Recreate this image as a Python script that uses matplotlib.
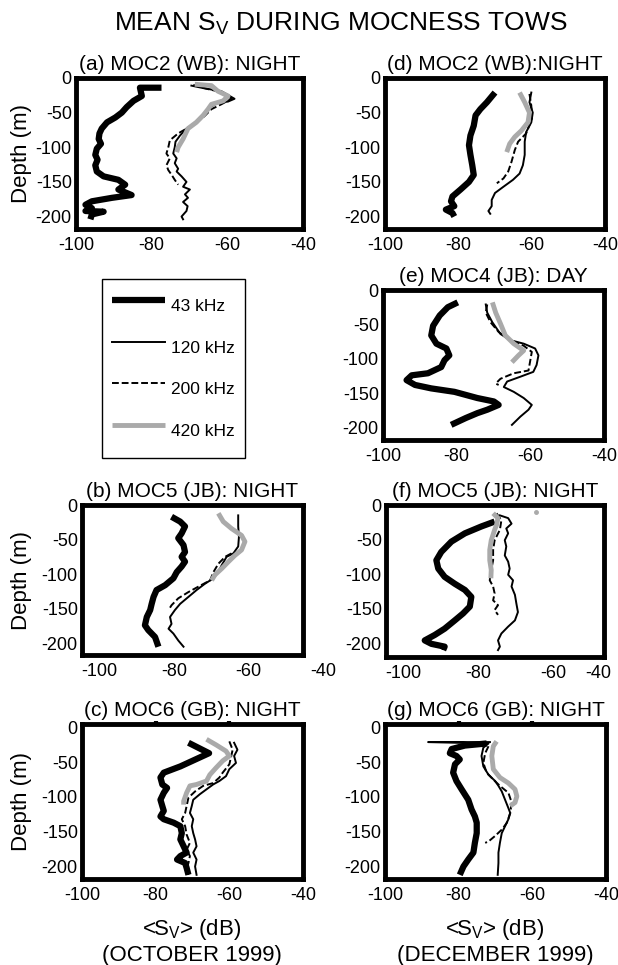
import matplotlib
matplotlib.use('Agg')
import matplotlib.pyplot as plt
from matplotlib import transforms

plt.rcParams['font.family'] = ['Liberation Sans', 'DejaVu Sans']
plt.rcParams['mathtext.fontset'] = 'custom'
plt.rcParams['mathtext.rm'] = 'Liberation Sans'
plt.rcParams['mathtext.default'] = 'regular'
plt.rcParams['axes.unicode_minus'] = False

W, H = 618, 965

FREQS = ['43 kHz', '120 kHz', '200 kHz', '420 kHz']

# ---- (a) MOC2 (WB) night, October
a43_z = [-14, -14, -26, -33, -42, -50, -57, -64, -73, -80, -88, -95, -102, -111, -118, -126, -135, -142, -147, -154, -161, -169, -173, -178, -183, -188, -192, -193, -197, -204]
a43_sv = [-77.4, -83.1, -82.6, -84.8, -86.6, -87.9, -89.6, -91.8, -93.2, -93.8, -94.0, -93.4, -94.5, -94.9, -94.3, -94.9, -94.5, -92.7, -88.8, -87.0, -88.8, -85.3, -90.5, -95.8, -97.5, -95.8, -97.5, -92.7, -95.8, -96.2]
a120_z = [-11, -15, -19, -30, -34, -36, -42, -52, -64, -73, -83, -92, -100, -109, -116, -123, -131, -135, -142, -150, -157, -161, -168, -173, -179, -185, -192, -200, -204]
a120_sv = [-69.5, -66.0, -61.6, -58.1, -59.8, -62.5, -64.6, -66.0, -68.2, -70.8, -72.5, -73.7, -73.9, -74.3, -73.4, -73.9, -73.0, -73.4, -72.1, -70.8, -71.7, -69.9, -71.2, -70.4, -71.7, -70.5, -70.8, -72.1, -71.7]
a200_z = [-10, -16, -21, -30, -38, -45, -57, -69, -80, -90, -100, -109, -116, -126, -133, -140, -147, -154]
a200_sv = [-69.0, -65.1, -61.1, -58.9, -61.6, -64.2, -66.4, -69.5, -73.0, -75.2, -75.6, -76.1, -75.2, -76.1, -75.6, -74.7, -73.9, -73.0]
a420_z = [-9, -11, -19, -26, -33, -38, -45, -54, -64, -73, -88, -100, -107]
a420_sv = [-68.6, -64.2, -62.5, -59.8, -61.1, -64.2, -65.1, -66.4, -68.2, -70.4, -71.7, -73.0, -73.4]

# ---- (b) MOC5 (JB) night, October
b43_z = [-17, -24, -31, -41, -48, -58, -68, -75, -82, -89, -97, -106, -116, -123, -133, -143, -152, -162, -174, -181, -191, -205]
b43_sv = [-80.6, -78.3, -77.0, -77.9, -78.8, -77.4, -77.0, -77.9, -77.0, -77.9, -79.2, -80.1, -82.3, -84.6, -85.4, -85.9, -86.3, -87.2, -87.7, -86.8, -85.0, -84.1]
b120_z = [-15, -31, -46, -60, -70, -75, -87, -97, -106, -114, -123, -133, -143, -152, -162, -172, -179, -186, -196, -205]
b120_sv = [-62.8, -62.8, -62.6, -62.8, -64.1, -65.9, -67.2, -68.1, -69.4, -71.7, -73.9, -76.1, -78.3, -79.7, -81.0, -80.6, -81.4, -80.1, -78.8, -77.4]
b200_z = [-70, -75, -85, -97, -109, -118, -126, -135, -145, -152]
b200_sv = [-64.6, -66.3, -68.1, -69.4, -70.3, -73.4, -76.1, -78.8, -80.6, -81.4]
b420_z = [-12, -24, -34, -44, -53, -65, -73, -82, -92, -101, -109]
b420_sv = [-68.1, -66.8, -64.6, -61.9, -61.0, -61.9, -63.7, -65.4, -67.2, -69.0, -69.9]

# ---- (c) MOC6 (GB) night, October
c43_z = [-22, -37, -56, -65, -72, -82, -87, -94, -104, -113, -120, -128, -132, -137, -142, -152, -161, -171, -180, -185, -190, -195, -202, -212]
c43_sv = [-71.1, -65.5, -73.3, -77.8, -78.7, -78.2, -76.9, -77.8, -78.7, -78.2, -77.8, -78.7, -77.8, -75.1, -73.3, -72.9, -73.3, -72.4, -71.6, -73.3, -74.2, -72.0, -71.6, -71.1]
c120_z = [-22, -32, -41, -51, -60, -70, -77, -82, -89, -96, -104, -113, -123, -132, -142, -152, -161, -171, -180, -190, -200, -212]
c120_sv = [-58.7, -57.8, -58.7, -58.2, -60.0, -60.9, -62.7, -64.4, -66.2, -68.0, -69.8, -70.2, -70.7, -69.8, -70.2, -69.8, -69.3, -68.9, -69.8, -68.9, -69.3, -68.9]
c200_z = [-20, -32, -44, -53, -65, -72, -80, -84, -92, -101, -113, -123, -132, -142, -154, -166, -176, -185, -195, -204, -212]
c200_sv = [-60.0, -59.1, -59.6, -60.0, -61.8, -62.7, -64.4, -67.1, -69.3, -71.1, -71.6, -72.0, -72.9, -72.0, -71.6, -70.7, -71.6, -70.7, -71.1, -71.6, -71.1]
c420_z = [-17, -25, -34, -41, -48, -58, -68, -77, -82, -84, -94, -106, -111]
c420_sv = [-66.2, -63.6, -60.9, -60.0, -61.8, -63.6, -65.3, -66.2, -68.9, -70.7, -71.6, -72.4, -72.4]

# ---- (d) MOC2 (WB) night, December
d43_z = [-21, -35, -45, -54, -69, -83, -97, -111, -126, -140, -150, -161, -171, -178, -185, -190, -195, -200]
d43_sv = [-70.0, -72.2, -74.0, -75.3, -75.8, -76.7, -77.1, -76.7, -76.2, -75.8, -77.1, -79.4, -81.6, -82.0, -81.1, -83.4, -81.6, -81.1]
d120_z = [-21, -35, -50, -64, -78, -92, -111, -126, -138, -147, -157, -166, -176, -185, -192, -196]
d120_sv = [-60.1, -60.6, -59.7, -60.1, -61.5, -61.9, -61.9, -62.4, -63.3, -65.1, -67.7, -70.0, -70.9, -70.9, -71.8, -71.3]
d200_z = [-23, -40, -58, -80, -92, -104, -121, -135, -145, -152]
d200_sv = [-60.6, -60.1, -59.9, -61.5, -63.7, -64.6, -65.5, -66.4, -67.7, -69.5]
d420_z = [-21, -35, -50, -64, -76, -85, -95, -107]
d420_sv = [-63.3, -61.9, -60.6, -61.0, -62.8, -64.6, -66.0, -66.8]

# ---- (e) MOC4 (JB) day, December
e43_z = [-18, -25, -37, -52, -66, -78, -85, -95, -102, -112, -121, -124, -131, -138, -143, -148, -157, -162, -167, -174, -179, -186, -196]
e43_sv = [-79.7, -82.4, -84.6, -86.4, -86.9, -85.5, -82.8, -82.0, -83.3, -84.2, -87.8, -92.2, -93.6, -91.3, -86.9, -80.6, -74.4, -69.9, -68.6, -71.7, -74.4, -77.5, -81.5]
e120_z = [-21, -33, -47, -64, -73, -78, -85, -95, -109, -119, -126, -133, -141, -148, -157, -167, -174, -184, -196]
e120_sv = [-72.1, -71.7, -70.3, -68.1, -65.4, -61.8, -58.7, -57.8, -58.3, -59.2, -62.7, -66.3, -67.2, -64.5, -61.8, -59.6, -60.5, -62.7, -65.0]
e200_z = [-21, -33, -47, -61, -73, -81, -90, -105, -117, -121, -129, -136, -138]
e200_sv = [-71.7, -72.1, -70.8, -68.6, -65.4, -61.8, -59.6, -60.1, -60.5, -64.5, -68.1, -69.4, -68.6]
e420_z = [-18, -33, -49, -66, -78, -88, -95, -105]
e420_sv = [-70.3, -69.4, -68.1, -66.8, -64.5, -61.8, -63.2, -65.0]

# ---- (f) MOC5 (JB) night, December
f43_z = [-24, -31, -41, -53, -68, -80, -92, -104, -114, -123, -133, -147, -157, -167, -179, -188, -196, -201, -205, -210]
f43_sv = [-75.6, -79.1, -83.5, -87.1, -89.8, -91.1, -90.6, -88.9, -86.2, -83.5, -81.8, -82.2, -84.0, -86.2, -88.9, -91.5, -94.2, -92.4, -88.9, -89.3]
f120_z = [-15, -19, -27, -34, -41, -51, -60, -73, -82, -92, -101, -109, -118, -130, -143, -155, -167, -176, -186, -196, -205, -210]
f120_sv = [-74.2, -72.0, -71.1, -72.5, -72.0, -72.9, -72.5, -72.9, -72.0, -71.6, -72.0, -70.7, -71.1, -70.2, -69.8, -69.4, -70.2, -72.0, -73.8, -74.7, -74.2, -74.7]
f200_z = [-12, -22, -36, -51, -65, -80, -94, -109, -118, -128, -138, -145, -152, -159]
f200_sv = [-75.1, -73.8, -74.2, -75.6, -76.0, -76.0, -76.5, -76.9, -76.0, -75.6, -76.0, -74.7, -75.6, -74.7]
f420_z = [-12, -19, -29, -36, -51, -65, -80, -94, -106]
f420_sv = [-76.0, -74.7, -75.1, -75.6, -76.5, -76.9, -76.9, -76.5, -76.6]
f420_dot_z = [-10]
f420_dot_sv = [-64.7]

# ---- (g) MOC6 (GB) night, December
g43_z = [-23, -26, -31, -37, -41, -46, -53, -65, -77, -89, -104, -118, -128, -137, -152, -166, -180, -190, -200, -212]
g43_sv = [-72.4, -78.3, -81.9, -82.4, -80.6, -79.7, -81.0, -81.5, -80.6, -79.2, -77.4, -76.5, -75.6, -75.1, -75.1, -75.6, -76.0, -77.4, -78.7, -79.7]
g120_z = [-21, -21, -23, -29, -41, -56, -68, -77, -84, -92, -104, -116, -123, -132, -142, -152, -166, -180, -195, -212]
g120_sv = [-71.5, -88.3, -71.9, -73.3, -73.8, -73.3, -71.9, -70.1, -69.2, -68.3, -67.4, -66.5, -66.0, -66.5, -67.4, -68.3, -68.8, -69.2, -69.2, -69.4]
g200_z = [-27, -37, -51, -65, -75, -84, -94, -108, -123, -137, -147, -156, -164, -166]
g200_sv = [-71.9, -72.8, -73.3, -72.4, -70.6, -68.8, -66.5, -65.6, -66.0, -66.9, -68.3, -70.1, -71.9, -72.8]
g420_z = [-20, -27, -41, -60, -72, -80, -89, -99, -108, -113]
g420_sv = [-69.7, -70.6, -71.0, -70.6, -68.8, -66.5, -64.7, -64.2, -64.7, -66.0]

YTICKS = [0, -50, -100, -150, -200]
XTICKS = [-100, -80, -60, -40]

STYLES = [dict(color='black', lw=4.5, solid_capstyle='butt'),
          dict(color='black', lw=1.4),
          dict(color='black', lw=1.4, dashes=(3.5, 1.5)),
          dict(color='#aaaaaa', lw=3.5, solid_capstyle='butt')]

# title, box in pixels (left, right, top, bottom), xlim, ylim, series
panels = [
    ('(a) MOC2 (WB): NIGHT', (76, 303, 78, 229), (-100, -40), (-218, 0),
     [(a43_sv, a43_z), (a120_sv, a120_z), (a200_sv, a200_z), (a420_sv, a420_z)]),
    ('(b) MOC5 (JB): NIGHT', (82, 303, 505, 655), (-104.5, -45.5), (-217, 0),
     [(b43_sv, b43_z), (b120_sv, b120_z), (b200_sv, b200_z), (b420_sv, b420_z)]),
    ('(c) MOC6 (GB): NIGHT', (82, 303, 724, 879), (-100, -40), (-218, 5),
     [(c43_sv, c43_z), (c120_sv, c120_z), (c200_sv, c200_z), (c420_sv, c420_z)]),
    ('(d) MOC2 (WB):NIGHT', (385, 605, 78, 229), (-100, -40), (-218, 0),
     [(d43_sv, d43_z), (d120_sv, d120_z), (d200_sv, d200_z), (d420_sv, d420_z)]),
    ('(e) MOC4 (JB): DAY', (383, 604, 290, 440), (-100, -40), (-218, 0),
     [(e43_sv, e43_z), (e120_sv, e120_z), (e200_sv, e200_z), (e420_sv, e420_z)]),
    ('(f) MOC5 (JB): NIGHT', (386, 604, 505, 657), (-104.5, -46.5), (-220, 0),
     [(f43_sv, f43_z), (f120_sv, f120_z), (f200_sv, f200_z), (f420_sv, f420_z)]),
    ('(g) MOC6 (GB): NIGHT', (385, 606, 724, 879), (-100, -40), (-218, 5),
     [(g43_sv, g43_z), (g120_sv, g120_z), (g200_sv, g200_z), (g420_sv, g420_z)]),
]

fig = plt.figure(figsize=(W / 100, H / 100), dpi=100)
axes = {}
for title, box, xl, yl, series in panels:
    x0, x1, y0, y1 = box
    ax = fig.add_axes([x0 / W, 1 - y1 / H, (x1 - x0) / W, (y1 - y0) / H])
    lines = []
    for (sv, z), st in zip(series, STYLES):
        ln, = ax.plot(sv, z, **st)
        lines.append(ln)
    ax.set_xlim(*xl)
    ax.set_ylim(*yl)
    ax.set_xticks([t for t in XTICKS if xl[0] <= t <= xl[1]])
    ax.set_yticks(YTICKS)
    ax.tick_params(length=0, labelsize=13)
    ax.tick_params(axis='x', pad=6)
    ax.tick_params(axis='y', pad=3)
    for s in ax.spines.values():
        s.set_linewidth(3.5)
    ax.set_title(title, fontsize=15, pad=6)
    axes[title[:3]] = (ax, lines)

# stray 420 kHz sample in (f)
axf = axes['(f)'][0]
axf.plot(f420_dot_sv, f420_dot_z, 'o', color='#aaaaaa', ms=2.5)

# extra "-40" labels as they appear in (b) and (f)
for key, xpos in [('(b)', -40), ('(f)', -48)]:
    ax = axes[key][0]
    tr = transforms.offset_copy(transforms.blended_transform_factory(ax.transData, ax.transAxes),
                                fig=fig, y=-6, units='points')
    ax.text(xpos, 0, '-40', transform=tr, ha='center', va='top', fontsize=13, clip_on=False)

# small top ticks in (c) and (g)
for key in ['(c)', '(g)']:
    ax = axes[key][0]
    sec = ax.secondary_xaxis('top')
    sec.set_xticks([-80, -60])
    sec.tick_params(length=2.5, width=3, labeltop=False)
    sec.spines['top'].set_visible(False)

# y labels
for key in ['(a)', '(b)', '(c)']:
    ax = axes[key][0]
    pos = ax.get_position()
    fig.text(22 / W, pos.y0 + pos.height / 2, 'Depth (m)', rotation=90,
             ha='center', va='center', fontsize=16)

# x labels
fig.text(192 / W, 1 - 930 / H, '<S$_V$> (dB)', ha='center', va='center', fontsize=16)
fig.text(192 / W, 1 - 955 / H, '(OCTOBER 1999)', ha='center', va='center', fontsize=16)
fig.text(495 / W, 1 - 930 / H, '<S$_V$> (dB)', ha='center', va='center', fontsize=16)
fig.text(495 / W, 1 - 955 / H, '(DECEMBER 1999)', ha='center', va='center', fontsize=16)

fig.text(341 / W, 1 - 24 / H, 'MEAN S$_V$ DURING MOCNESS TOWS', ha='center', va='center', fontsize=19)

leg = fig.legend(axes['(a)'][1], FREQS, loc='upper left',
                 bbox_to_anchor=(102 / W, 1 - 279 / H), borderaxespad=0,
                 fancybox=False, edgecolor='black', framealpha=1, fontsize=12.5,
                 handlelength=3.0, handletextpad=0.35, handleheight=2.6,
                 labelspacing=0.45, borderpad=0.6)
leg.get_frame().set_linewidth(1.0)

fig.savefig('out.png', dpi=100)
